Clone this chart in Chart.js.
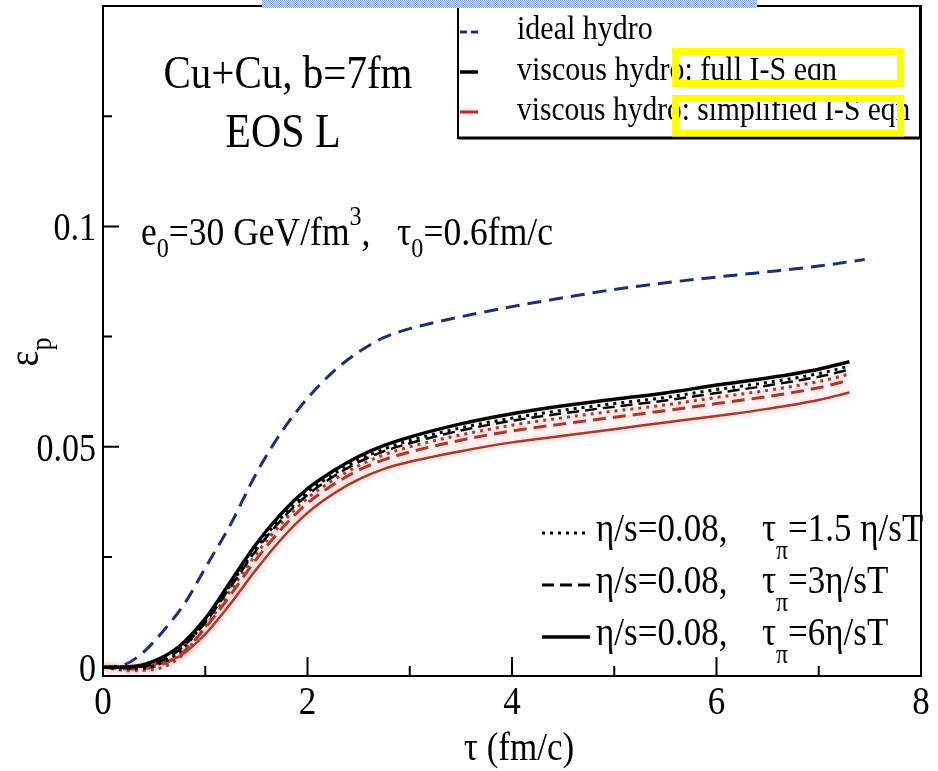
<!DOCTYPE html>
<html>
<head>
<meta charset="utf-8">
<script src="https://cdn.jsdelivr.net/npm/chart.js@4.4.0/dist/chart.umd.min.js"></script>
<style>
  html, body { margin:0; padding:0; background:#fff; }
</style>
</head>
<body>
<canvas id="ep" width="938" height="771"></canvas>
<script>
// eccentricity eps_p vs proper time tau (fm/c)
const tauIdeal = [0, 0.2, 0.4, 0.6, 0.8, 1.0, 1.25, 1.5, 1.75, 2.0, 2.25, 2.5, 2.75, 3.0, 3.5, 4.0, 4.5, 5.0, 5.5, 6.0, 6.5, 7.0, 7.45];
const epsIdeal = [0, 0.0005, 0.0035, 0.0085, 0.0145, 0.0225, 0.0325, 0.0440, 0.0535, 0.0610, 0.0670, 0.0715, 0.0748, 0.0768, 0.0795, 0.0818, 0.0838, 0.0857, 0.0872, 0.0885, 0.0897, 0.0910, 0.0925];

const tauVisc = [0, 0.25, 0.5, 0.75, 1.0, 1.25, 1.5, 1.75, 2.0, 2.25, 2.5, 2.75, 3.0, 3.5, 4.0, 4.5, 5.0, 5.5, 6.0, 6.5, 7.0, 7.3];
// full I-S equation
const epsFull15 = [0, -0.0003, 0.0003, 0.0036, 0.0105, 0.0188, 0.0271, 0.0341, 0.0397, 0.0437, 0.0470, 0.0495, 0.0514, 0.0543, 0.0565, 0.0583, 0.0598, 0.0612, 0.0630, 0.0646, 0.0666, 0.0683];
const epsFull3  = [0, -0.0001, 0.0008, 0.0040, 0.0101, 0.0183, 0.0266, 0.0336, 0.0391, 0.0432, 0.0465, 0.0490, 0.0508, 0.0537, 0.0559, 0.0576, 0.0591, 0.0605, 0.0622, 0.0639, 0.0659, 0.0675];
const epsFull6  = [0, 0.0001, 0.0014, 0.0048, 0.0110, 0.0195, 0.0280, 0.0350, 0.0405, 0.0445, 0.0478, 0.0503, 0.0522, 0.0552, 0.0575, 0.0593, 0.0608, 0.0622, 0.0640, 0.0656, 0.0676, 0.0693];
// simplified I-S equation
const epsSimp15 = [0, -0.0008, -0.0005, 0.0022, 0.0092, 0.0175, 0.0257, 0.0327, 0.0383, 0.0424, 0.0457, 0.0482, 0.0500, 0.0527, 0.0549, 0.0566, 0.0581, 0.0595, 0.0612, 0.0628, 0.0648, 0.0665];
const epsSimp3  = [0, -0.0004, 0.0001, 0.0028, 0.0089, 0.0165, 0.0245, 0.0315, 0.0372, 0.0414, 0.0447, 0.0471, 0.0488, 0.0515, 0.0536, 0.0552, 0.0567, 0.0582, 0.0598, 0.0614, 0.0634, 0.0651];
const epsSimp6  = [0, 0, 0.0006, 0.0025, 0.0075, 0.0145, 0.0222, 0.0292, 0.0350, 0.0393, 0.0426, 0.0450, 0.0466, 0.0490, 0.0510, 0.0525, 0.0540, 0.0555, 0.0570, 0.0586, 0.0606, 0.0623];

const xMajor = [0, 2, 4, 6, 8];
const xMinor = [1, 3, 5, 7];
const xTickLabels = ['0', '2', '4', '6', '8'];
const yMajor = [0, 0.05, 0.1];
const yMinor = [0.025, 0.075, 0.125];
const yTickLabels = ['0', '0.05', '0.1'];

const NAVY = '#1d2f78';
const RED  = '#a8392c';

const SERIF = '"Liberation Serif", "Times New Roman", serif';
const TALL = 1.15;   // glyphs are drawn a little taller than wide
const font = px => px + 'px ' + SERIF;
const pts = (xs, ys) => xs.map((x, i) => ({ x, y: ys[i] }));

// text made of pieces: [str] normal, [str,'sub'], [str,'sup'], [str,'low'] (deep subscript)
function runs(ctx, x, y, parts, px, align){
  const size = p => p[1] ? px * 0.68 : px;
  const shift = { sub: 0.34, low: 0.5, sup: -0.55 };
  let w = 0;
  parts.forEach(p => { ctx.font = font(size(p)); w += ctx.measureText(p[0]).width; });
  let cx = align === 'center' ? x - w / 2 : align === 'right' ? x - w : x;
  ctx.textAlign = 'left';
  ctx.textBaseline = 'alphabetic';
  parts.forEach(p => {
    ctx.font = font(size(p));
    const dy = p[1] ? px * shift[p[1]] : 0;
    ctx.save();
    ctx.translate(cx, y + dy);
    ctx.scale(1, TALL);
    ctx.fillText(p[0], 0, 0);
    ctx.restore();
    cx += ctx.measureText(p[0]).width;
  });
}

function sample(ctx, x0, x1, y, color, width, dash){
  ctx.save();
  ctx.strokeStyle = color; ctx.lineWidth = width; ctx.setLineDash(dash);
  ctx.beginPath(); ctx.moveTo(x0, y); ctx.lineTo(x1, y); ctx.stroke();
  ctx.restore();
}

/* white page + frame + inward ticks */
const framePlugin = {
  id: 'frame',
  beforeDraw(chart){
    const c = chart.ctx;
    c.save(); c.fillStyle = '#fff'; c.fillRect(0, 0, chart.width, chart.height); c.restore();
  },
  beforeDatasetsDraw(chart){
    const c = chart.ctx, a = chart.chartArea, sx = chart.scales.x, sy = chart.scales.y;
    c.save();
    c.strokeStyle = '#000'; c.lineWidth = 2;
    c.strokeRect(a.left, a.top, a.right - a.left, a.bottom - a.top);
    c.beginPath();
    xMajor.forEach(v => { const px = sx.getPixelForValue(v); c.moveTo(px, a.bottom); c.lineTo(px, a.bottom - 19); });
    xMinor.forEach(v => { const px = sx.getPixelForValue(v); c.moveTo(px, a.bottom); c.lineTo(px, a.bottom - 10); });
    yMajor.forEach(v => { const py = sy.getPixelForValue(v); c.moveTo(a.left, py); c.lineTo(a.left + 16, py); });
    yMinor.forEach(v => { const py = sy.getPixelForValue(v); c.moveTo(a.left, py); c.lineTo(a.left + 9, py); });
    c.stroke();

    c.fillStyle = '#000';
    xMajor.forEach((v, i) => runs(c, sx.getPixelForValue(v), 714, [[xTickLabels[i]]], 35, 'center'));
    yMajor.forEach((v, i) => runs(c, 96, sy.getPixelForValue(v) + 14, [[yTickLabels[i]]], 34, 'right'));
    c.restore();
  }
};

/* soft halo under the simplified-equation curves */
const glowPlugin = {
  id: 'glow',
  beforeDatasetDraw(chart, args){
    const ds = chart.data.datasets[args.index];
    chart.ctx.save();
    if (ds.glow){ chart.ctx.shadowColor = 'rgba(240,110,110,0.6)'; chart.ctx.shadowBlur = 6; }
  },
  afterDatasetDraw(chart){ chart.ctx.restore(); }
};

/* titles, annotations and legends */
const textPlugin = {
  id: 'texts',
  afterDraw(chart){
    const c = chart.ctx;
    c.save();
    c.fillStyle = '#000';

    // axis titles
    runs(c, 519, 760, [['τ (fm/c)']], 35, 'center');
    c.save();
    c.translate(38, 352); c.rotate(-Math.PI / 2);
    runs(c, 0, 0, [['ε'], ['p', 'sub']], 38, 'center');
    c.restore();

    // run parameters
    runs(c, 288, 88, [['Cu+Cu, b=7fm']], 41, 'center');
    runs(c, 283, 147, [['EOS L']], 42, 'center');
    runs(c, 141, 245, [['e'], ['0', 'sub'], ['=30 GeV/fm'], ['3', 'sup'], [',   '], ['τ'], ['0', 'sub'], ['=0.6fm/c']], 35.5);

    // upper legend
    c.fillStyle = '#fff';
    c.fillRect(458, 6, 462, 132);
    c.strokeStyle = '#000'; c.lineWidth = 2;
    c.strokeRect(458, 6, 462, 132);
    c.lineWidth = 3;
    c.beginPath(); c.moveTo(458, 138); c.lineTo(920, 138); c.stroke();
    c.fillStyle = '#000';
    sample(c, 460, 478, 32, NAVY, 3, [7, 4]);
    sample(c, 460, 478, 72, '#000', 3.5, []);
    c.save(); c.shadowColor = 'rgba(240,110,110,0.6)'; c.shadowBlur = 4;
    sample(c, 460, 478, 112, RED, 3, []);
    c.restore();
    runs(c, 517, 39, [['ideal hydro']], 30);
    runs(c, 517, 80, [['viscous hydro: full I-S eqn']], 30);
    runs(c, 517, 120, [['viscous hydro: simplified I-S eqn']], 29.5);

    // lower legend
    sample(c, 542, 590, 533, '#000', 3, [3, 5]);
    sample(c, 542, 590, 585, '#000', 3, [12, 6]);
    sample(c, 542, 590, 637, '#000', 3.5, []);
    const rows = [[541, '=1.5 η/sT'], [593, '=3η/sT'], [645, '=6η/sT']];
    rows.forEach(r => {
      runs(c, 596, r[0], [['η/s=0.08,']], 35);
      runs(c, 762, r[0], [['τ'], ['π', 'low'], [r[1]]], 35);
    });

    // highlight marks over the legend
    c.strokeStyle = '#ffff00'; c.lineWidth = 7;
    c.strokeRect(675.5, 51.5, 225, 32);
    c.strokeRect(675.5, 98.5, 225, 34.5);

    // hatched strip along the top edge
    const tile = document.createElement('canvas');
    tile.width = 2; tile.height = 2;
    const t = tile.getContext('2d');
    t.fillStyle = '#c9d8fb'; t.fillRect(0, 0, 2, 2);
    t.fillStyle = '#8eaef0'; t.fillRect(0, 0, 1, 1); t.fillRect(1, 1, 1, 1);
    c.fillStyle = c.createPattern(tile, 'repeat');
    c.fillRect(262, 0, 495, 8);
    c.restore();
  }
};

new Chart(document.getElementById('ep'), {
  type: 'line',
  data: {
    datasets: [
      { data: pts(tauVisc, epsFull6),  borderColor: '#000', borderWidth: 3.5 },
      { data: pts(tauVisc, epsFull15), borderColor: '#000', borderWidth: 3, borderDash: [3, 5] },
      { data: pts(tauVisc, epsFull3),  borderColor: '#000', borderWidth: 2.5, borderDash: [12, 6] },
      { data: pts(tauVisc, epsSimp15), borderColor: RED, borderWidth: 3, borderDash: [3, 5], glow: true },
      { data: pts(tauVisc, epsSimp3),  borderColor: RED, borderWidth: 3, borderDash: [13, 7], glow: true },
      { data: pts(tauVisc, epsSimp6),  borderColor: RED, borderWidth: 2.5, glow: true },
      { data: pts(tauIdeal, epsIdeal), borderColor: NAVY, borderWidth: 3, borderDash: [14, 8] }
    ]
  },
  options: {
    responsive: false,
    animation: false,
    layout: { padding: { left: 103, right: 17, top: 6, bottom: 95 } },
    plugins: { legend: { display: false }, tooltip: { enabled: false } },
    elements: {
      point: { radius: 0 },
      line: { cubicInterpolationMode: 'monotone', borderCapStyle: 'butt', fill: false }
    },
    scales: {
      x: { type: 'linear', min: 0, max: 8, display: false },
      y: { type: 'linear', min: -0.002, max: 0.15, display: false }
    }
  },
  plugins: [framePlugin, glowPlugin, textPlugin]
});
</script>
</body>
</html>
